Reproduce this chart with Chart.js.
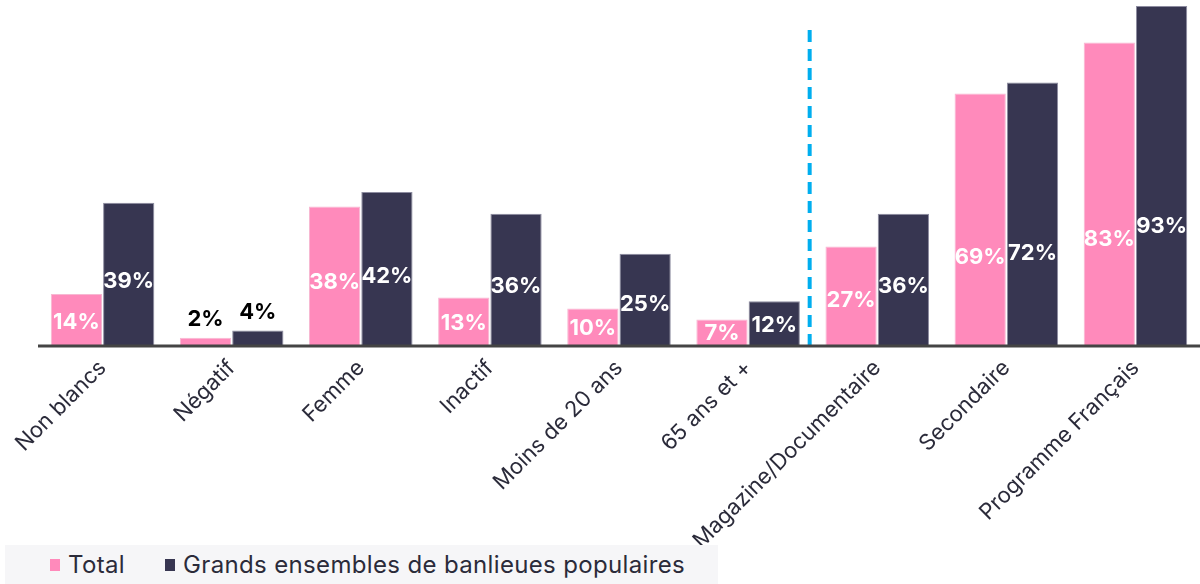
<!DOCTYPE html>
<html>
<head>
<meta charset="utf-8">
<script src="https://cdn.jsdelivr.net/npm/chart.js@4"></script>
<style>
  html, body { margin: 0; padding: 0; background: #fff; overflow: hidden; }
  .wrap { position: relative; width: 1200px; height: 584px; }
  #legend {
    position: absolute; left: 5px; top: 545px; width: 713px; height: 39px;
    background: #f6f6f8; font-family: Inter, sans-serif; font-size: 24px; color: #2b2b3a;
    display: flex; align-items: center; letter-spacing: 0.35px; white-space: nowrap;
  }
  #legend span.box { display: inline-block; width: 10px; height: 12px; margin-right: 8px; flex: none; }
  #legend .item { display: flex; align-items: center; margin-right: 40px; flex: none; }
</style>
</head>
<body>
<div class="wrap">
  <canvas id="chart" width="1200" height="584"></canvas>
  <div id="legend"></div>
</div>
<script>
document.addEventListener('DOMContentLoaded', function() {
    // Data
    const categories = ['Non blancs', 'Négatif', 'Femme', 'Inactif', 'Moins de 20 ans', '65 ans et +',
        'Magazine/Documentaire', 'Secondaire', 'Programme Français'];
    const totalValues = [14, 2, 38, 13, 10, 7, 27, 69, 83];
    const banlieueValues = [39, 4, 42, 36, 25, 12, 36, 72, 93];
    const seriesNames = ['Total', 'Grands ensembles de banlieues populaires'];
    const pink = '#ff8abb';
    const navy = '#373651';

    // Data labels drawn on the bars
    const labelPlugin = {
        id: 'barLabels',
        afterDatasetsDraw(chart) {
            const ctx = chart.ctx;
            const y = chart.scales.y;
            ctx.save();
            ctx.font = 'bold 22px Inter, sans-serif';
            ctx.textAlign = 'center';
            ctx.textBaseline = 'middle';
            chart.data.datasets.forEach(function(ds, i) {
                chart.getDatasetMeta(i).data.forEach(function(bar, j) {
                    const v = ds.data[j];
                    let py;
                    if (v < 5) {
                        ctx.fillStyle = '#000';
                        py = bar.y - 18;
                    } else {
                        ctx.fillStyle = '#fff';
                        py = y.getPixelForValue(v > 50 ? v * 0.35 : v * 0.45);
                    }
                    ctx.fillText(v + '%', bar.x, py);
                });
            });
            ctx.restore();
        }
    };

    // Dashed separator and base line
    const extrasPlugin = {
        id: 'extras',
        afterDraw(chart) {
            const ctx = chart.ctx;
            const x = chart.scales.x;
            const y = chart.scales.y;
            const sx = (x.getPixelForValue(5) + x.getPixelForValue(6)) / 2 - 3;
            ctx.save();
            ctx.strokeStyle = '#00aeef';
            ctx.lineWidth = 4;
            ctx.setLineDash([12, 7]);
            ctx.beginPath();
            ctx.moveTo(sx, 30);
            ctx.lineTo(sx, y.getPixelForValue(0));
            ctx.stroke();
            ctx.setLineDash([]);
            ctx.strokeStyle = '#444';
            ctx.lineWidth = 3;
            ctx.beginPath();
            ctx.moveTo(chart.chartArea.left, y.getPixelForValue(0) + 1);
            ctx.lineTo(chart.chartArea.right, y.getPixelForValue(0) + 1);
            ctx.stroke();
            ctx.restore();
        }
    };

    const config = {
        type: 'bar',
        data: {
            labels: categories,
            datasets: [{
                label: seriesNames[0],
                data: totalValues,
                backgroundColor: pink,
                borderColor: '#f7b8d2',
                borderWidth: 1
            }, {
                label: seriesNames[1],
                data: banlieueValues,
                backgroundColor: navy,
                borderColor: '#8d8ca0',
                borderWidth: 1
            }]
        },
        options: {
            responsive: false,
            animation: false,
            layout: { padding: { left: 38, top: 6, right: 0, bottom: 0 } },
            barPercentage: 0.98,
            categoryPercentage: 0.81,
            plugins: {
                legend: { display: false },
                tooltip: { enabled: false }
            },
            scales: {
                y: {
                    display: false,
                    min: 0,
                    max: 93
                },
                x: {
                    grid: { display: false, drawTicks: false },
                    border: { display: false },
                    ticks: {
                        minRotation: 45,
                        maxRotation: 45,
                        padding: 10,
                        color: '#2b2b3a',
                        font: { family: 'Inter, sans-serif', size: 22 }
                    },
                    afterFit(scale) { scale.height = 584 - 345; }
                }
            }
        },
        plugins: [labelPlugin, extrasPlugin]
    };

    new Chart(document.getElementById('chart').getContext('2d'), config);

    // Legend
    const legend = document.getElementById('legend');
    [pink, navy].forEach(function(c, i) {
        const item = document.createElement('div');
        item.className = 'item';
        item.style.marginLeft = i === 0 ? '45px' : '0';
        if (i === 1) item.style.marginRight = '0';
        item.innerHTML = '<span class="box" style="background:' + c + '"></span>' + seriesNames[i];
        legend.appendChild(item);
    });
});
</script>
</body>
</html>
